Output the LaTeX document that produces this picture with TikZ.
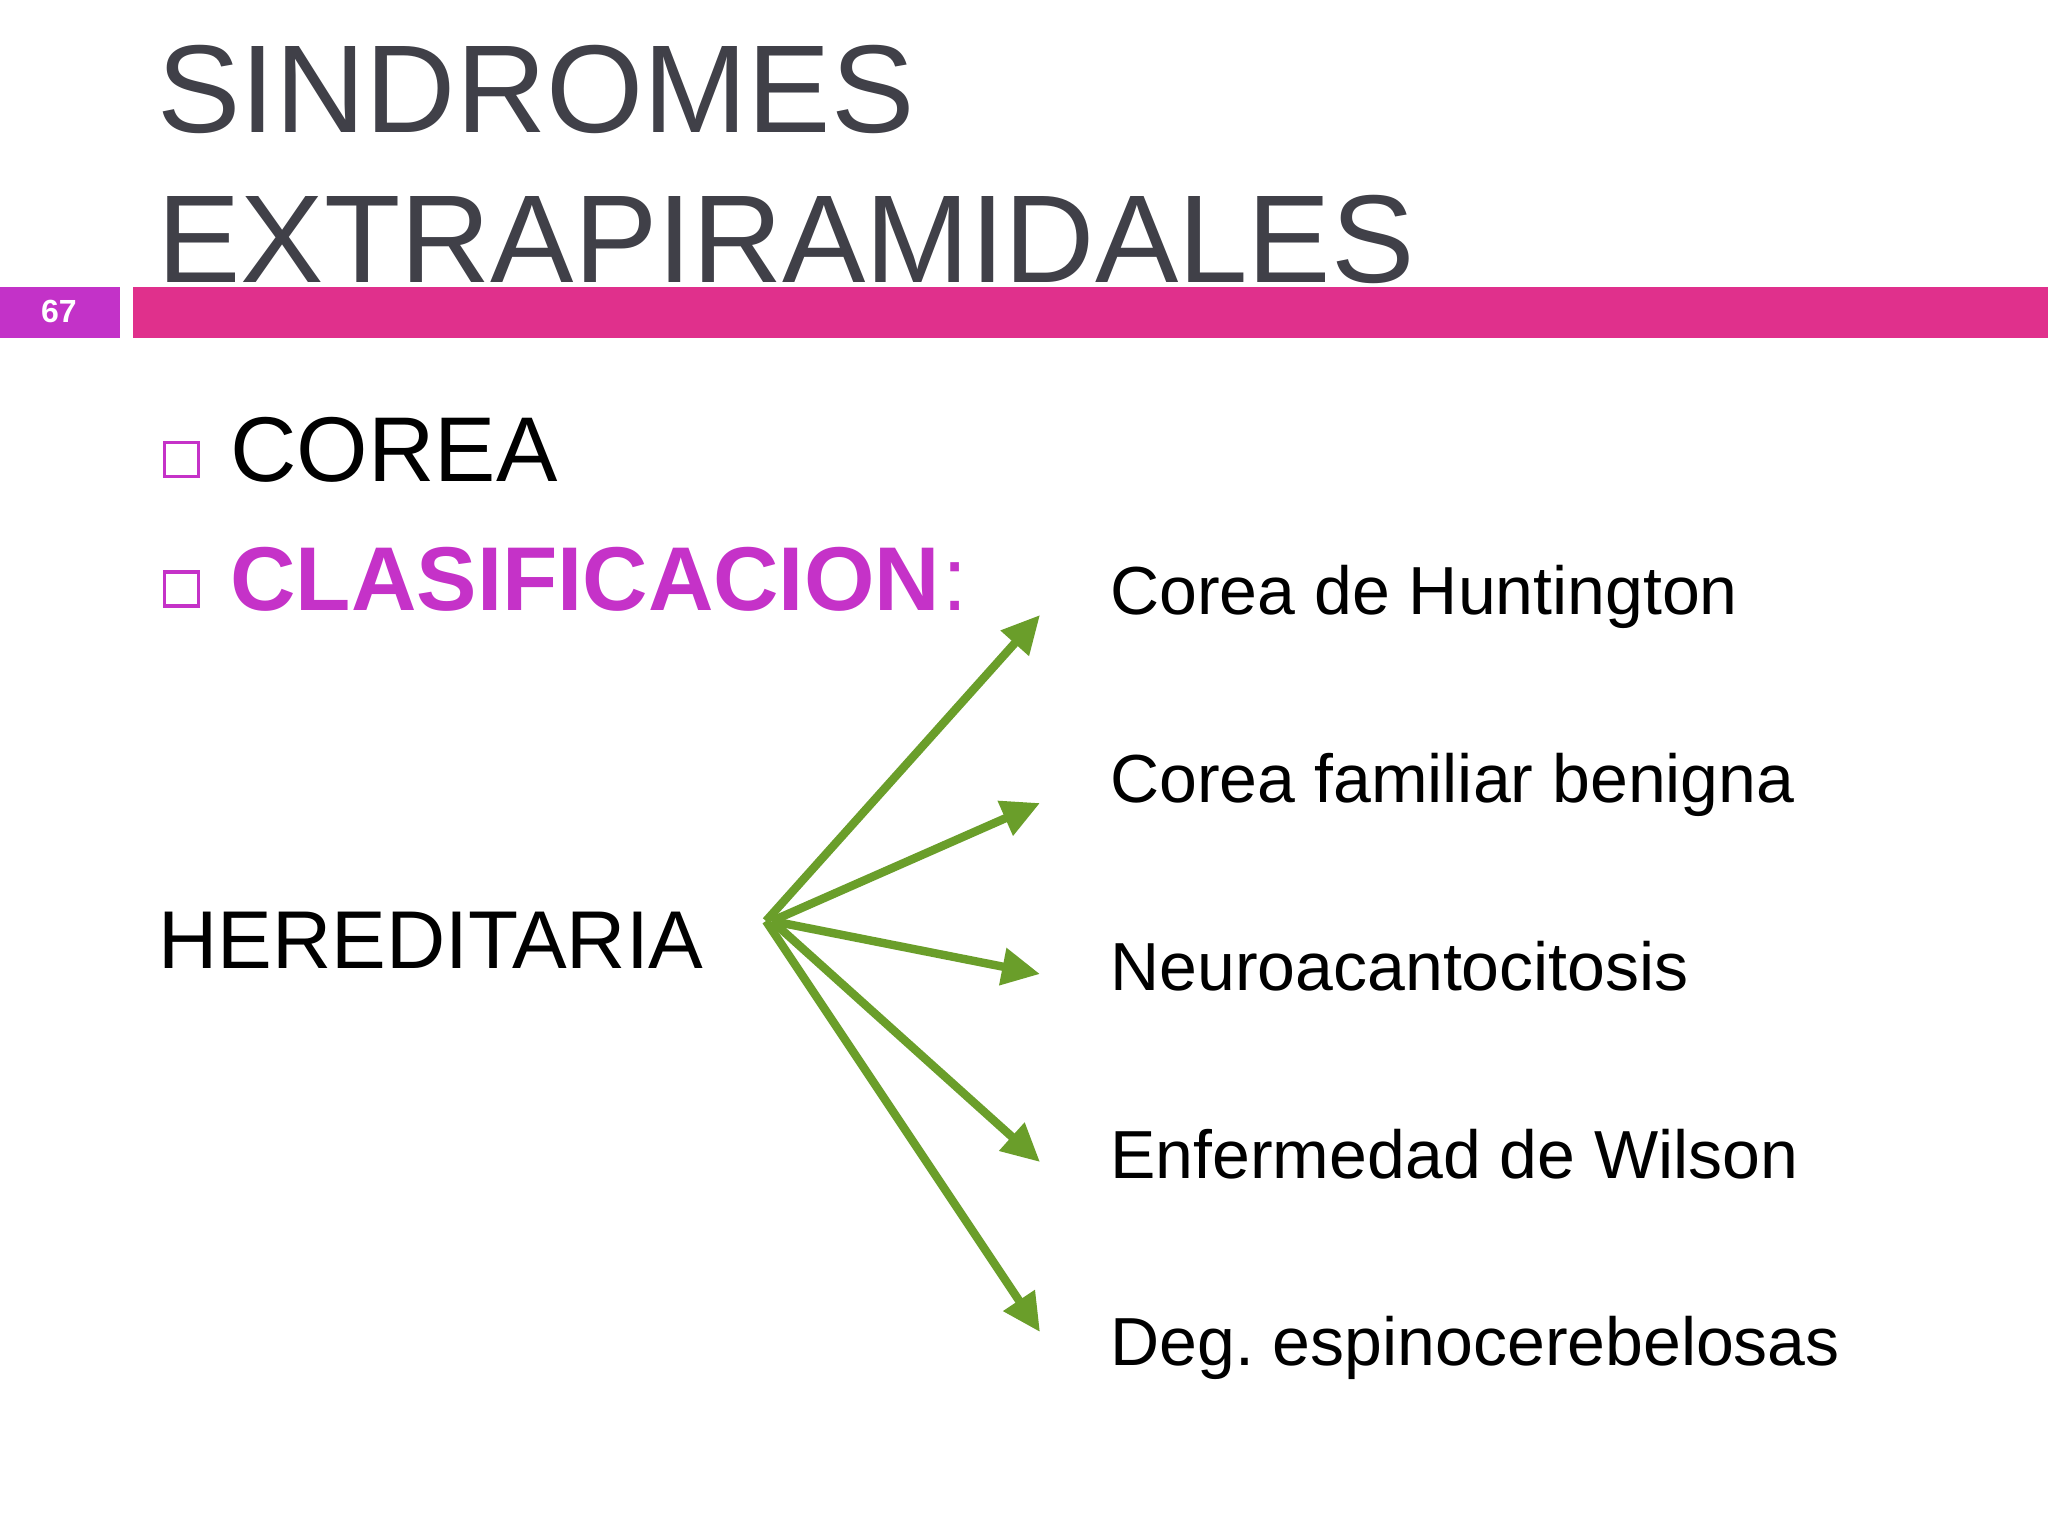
\documentclass[tikz,border=0pt]{standalone}
\usepackage{fontspec}
\setmainfont{Liberation Sans}
\usetikzlibrary{arrows.meta}
\frenchspacing
\definecolor{titlegray}{HTML}{404048}
\definecolor{barpurple}{HTML}{C332C8}
\definecolor{barpink}{HTML}{E0308C}
\definecolor{magtext}{HTML}{C532C8}
\definecolor{arrgreen}{HTML}{6A9E2A}
\begin{document}
\begin{tikzpicture}[x=0.5pt,y=-0.5pt,
  titletext/.style={anchor=base west,inner sep=0pt,text=titlegray,font=\fontsize{62.5}{70}\selectfont},
  bullettext/.style={anchor=base west,inner sep=0pt,font=\fontsize{46}{52}\selectfont},
  bulletbox/.style={draw=magtext,line width=1.6pt,minimum width=17pt,minimum height=17pt,inner sep=0pt},
  labeltext/.style={anchor=base west,inner sep=0pt,font=\fontsize{34}{40}\selectfont},
  arr/.style={draw=arrgreen,line width=4.2pt,-{Triangle[length=19pt,width=18pt]}}]
\useasboundingbox[fill=white] (0,0) rectangle (2048,1536);
% header bar
\fill[barpurple] (0,287) rectangle (120,338);
\fill[barpink] (133,287) rectangle (2048,338);
\node[text=white,font=\bfseries\fontsize{16}{18}\selectfont,inner sep=0pt] (num) at (59,311) {67};
% title
\node[titletext] (t1) at (157,133) {SINDROMES};
\node[titletext] (t2) at (157,282) {EXTRAPIRAMIDALES};
% bullets
\node[bulletbox] (b1) at (181.5,459.5) {};
\node[bullettext] (corea) at (230,481) {COREA};
\node[bulletbox] (b2) at (181.5,589) {};
\node[bullettext,font=\fontsize{45.3}{52}\selectfont] (clas) at (230,610) {\textcolor{magtext}{\bfseries CLASIFICACION}\kern1pt\textcolor{magtext}{:}};
% hereditaria
\node[anchor=base west,inner sep=0pt,font=\fontsize{41}{46}\selectfont] (her) at (158,968) {HEREDITARIA};
% right labels
\node[labeltext] (l1) at (1110,614) {Corea de Huntington};
\node[labeltext] (l2) at (1110,802) {Corea familiar benigna};
\node[labeltext] (l3) at (1110,990) {Neuroacantocitosis};
\node[labeltext] (l4) at (1110,1178) {Enfermedad de Wilson};
\node[labeltext] (l5) at (1110,1365) {Deg. espinocerebelosas};
% arrows
\coordinate (hub) at (766,921);
\coordinate (hubb) at (772,921);
\coordinate (a1) at (1040,615);
\coordinate (a2) at (1040,803);
\coordinate (a3) at (1040,974);
\coordinate (a4) at (1040,1162);
\coordinate (a5) at (1040,1332);
\draw[arr] (hub) -- (a1);
\draw[arr] (hubb) -- (a2);
\draw[arr] (hubb) -- (a3);
\draw[arr] (hubb) -- (a4);
\draw[arr] (hub) -- (a5);
\end{tikzpicture}
\end{document}
